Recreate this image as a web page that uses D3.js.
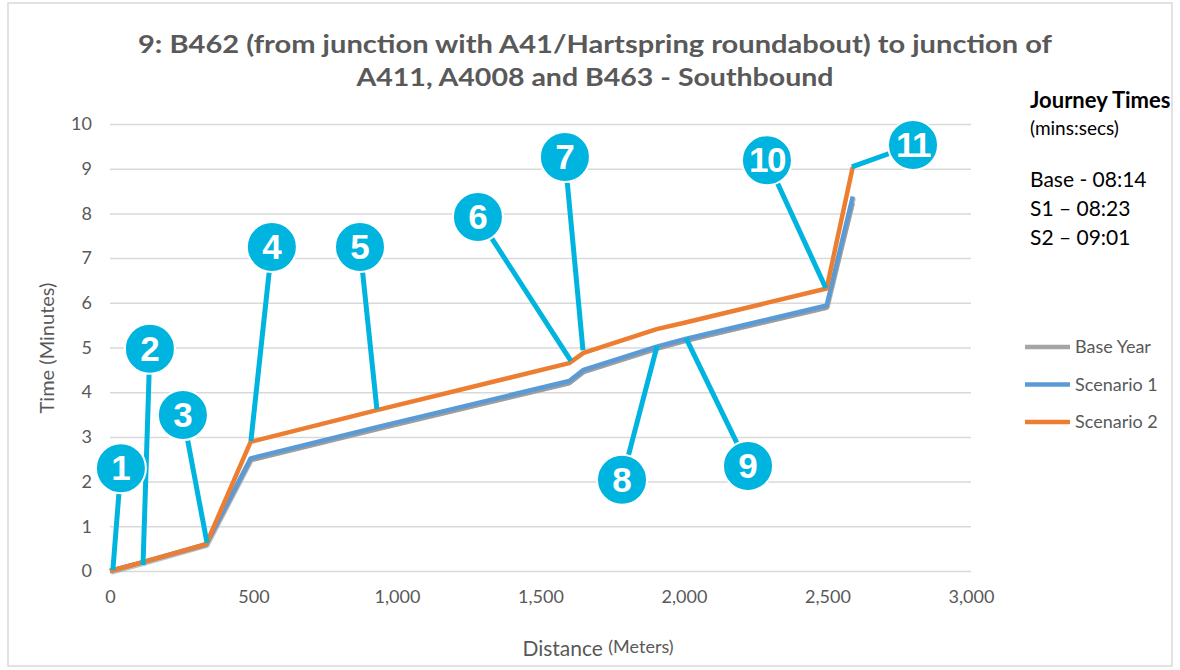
<!DOCTYPE html>
<html>
<head>
<meta charset="utf-8">
<script src="https://cdn.jsdelivr.net/npm/d3@7"></script>
<style>
  html, body { margin: 0; padding: 0; background: #fff; }
  svg { display: block; }
</style>
</head>
<body>
<svg id="chart" width="1180" height="670"></svg>
<script>
// ---------------- data ----------------
const titleLines = ["9: B462 (from junction with A41/Hartspring roundabout) to junction of",
                    "A411, A4008 and B463 - Southbound"];
const distances  = [0, 115, 335, 490, 930, 1600, 1650, 1905, 2005, 2497, 2588];
const baseYear   = [0, 0.2, 0.58, 2.48, 3.17, 4.20, 4.45, 4.97, 5.15, 5.89, 8.23];
const scenario1  = [0, 0.2, 0.60, 2.52, 3.22, 4.25, 4.50, 5.02, 5.19, 5.94, 8.38];
const scenario2  = [0, 0.2, 0.60, 2.89, 3.60, 4.65, 4.88, 5.41, 5.56, 6.32, 9.04];
const seriesNames = ["Base Year", "Scenario 1", "Scenario 2"];
const xTicks = [0, 500, 1000, 1500, 2000, 2500, 3000];
const yTicks = [0, 1, 2, 3, 4, 5, 6, 7, 8, 9, 10];
// annotation labels: bubble position (distance, minutes) and pointed node (distance, minutes)
const annLabels  = ["1", "2", "3", "4", "5", "6", "7", "8", "9", "10", "11"];
const annBubbleX = [38, 139, 254, 564, 871, 1282, 1585, 1784, 2223, 2289, 2798];
const annBubbleY = [2.30, 4.97, 3.49, 7.25, 7.25, 7.92, 9.26, 2.04, 2.35, 9.19, 9.53];
const annTargetX = [10, 115, 338, 491, 930, 1606, 1648, 1906, 2007, 2494, 2585];
const annTargetY = [0.02, 0.13, 0.63, 2.91, 3.62, 4.70, 4.94, 5.03, 5.21, 6.33, 9.04];
const journeyTitle = "Journey Times";
const journeyUnit = "(mins:secs)";
const journeyLines = ["Base - 08:14", "S1 \u2013 08:23", "S2 \u2013 09:01"];

// ---------------- drawing ----------------
const svg = d3.select("#chart");
const colors = ["#a5a5a5", "#5b9bd5", "#ed7d31"];
const cyan = "#00b4e0";
const textGray = "#595959";
const font = "Lato, 'Open Sans', sans-serif";

// outer border
svg.append("rect").attr("x", 8).attr("y", 3).attr("width", 1164).attr("height", 663)
  .attr("fill", "#fff").attr("stroke", "#d9d9d9").attr("stroke-width", 1.5);

const x = d3.scaleLinear().domain([0, 3000]).range([110, 971]);
const y = d3.scaleLinear().domain([0, 10]).range([571, 124]);

// title
svg.append("g").selectAll("text").data(titleLines).join("text")
  .attr("x", 595).attr("y", (d, i) => 53 + i * 33)
  .attr("text-anchor", "middle")
  .attr("font-family", font)
  .attr("font-weight", "bold").attr("font-size", 25)
  .attr("fill", textGray)
  .attr("textLength", (d, i) => i === 0 ? 914 : 477)
  .attr("lengthAdjust", "spacingAndGlyphs")
  .text(d => d);

// y gridlines + labels
const yAxis = d3.axisLeft(y).tickValues(yTicks).tickSize(-(x(3000) - x(0))).tickPadding(18)
  .tickFormat(d3.format("d"));
const gy = svg.append("g").attr("transform", `translate(${x(0)},0)`).call(yAxis);
gy.select(".domain").remove();
gy.selectAll(".tick line").attr("stroke", "#d9d9d9").attr("stroke-width", 1.5);
gy.selectAll(".tick text").attr("font-family", font)
  .attr("font-size", 18).attr("fill", textGray);

// x labels
const xAxis = d3.axisBottom(x).tickValues(xTicks).tickSize(0).tickPadding(19)
  .tickFormat(d3.format(","));
const gx = svg.append("g").attr("transform", `translate(0,${y(0)})`).call(xAxis);
gx.select(".domain").remove();
gx.selectAll(".tick text").attr("font-family", font)
  .attr("font-size", 18).attr("fill", textGray);

// axis titles
svg.append("text").attr("transform", "translate(54,348) rotate(-90)")
  .attr("text-anchor", "middle").attr("font-family", font)
  .attr("font-size", 20).attr("fill", textGray).text("Time (Minutes)");
const xt = svg.append("text").attr("x", 598).attr("y", 656).attr("text-anchor", "middle")
  .attr("font-family", font).attr("fill", textGray);
xt.append("tspan").attr("font-size", 21).text("Distance ");
xt.append("tspan").attr("font-size", 18).attr("dy", -3).text("(Meters)");

// series lines
const seriesData = [baseYear, scenario1, scenario2];
const line = d3.line().x(d => x(d[0])).y(d => y(d[1]));
const gl = svg.append("g");
seriesData.forEach((vals, si) => {
  const pts = distances.map((dd, i) => [dd, vals[i]]);
  if (si === 1) {
    gl.append("path").datum(pts).attr("d", line).attr("fill", "none")
      .attr("stroke", "#9a9a9a").attr("stroke-opacity", 0.6).attr("stroke-width", 4.5)
      .attr("transform", "translate(1,1.5)").attr("stroke-linejoin", "round");
  }
  gl.append("path").datum(pts).attr("d", line).attr("fill", "none")
    .attr("stroke", colors[si]).attr("stroke-width", 4.5).attr("stroke-linejoin", "round");
});

// annotations
const ga = svg.append("g");
annLabels.forEach((lab, i) => {
  ga.append("line")
    .attr("x1", x(annBubbleX[i])).attr("y1", y(annBubbleY[i]))
    .attr("x2", x(annTargetX[i])).attr("y2", y(annTargetY[i]))
    .attr("stroke", cyan).attr("stroke-width", 5);
});
annLabels.forEach((lab, i) => {
  const cx = x(annBubbleX[i]), cy = y(annBubbleY[i]);
  ga.append("circle").attr("cx", cx).attr("cy", cy).attr("r", 25)
    .attr("fill", cyan).attr("stroke", "#fff").attr("stroke-width", 2);
  ga.append("text").attr("x", cx).attr("y", cy + 12).attr("text-anchor", "middle")
    .attr("font-family", "'Liberation Sans', Arial, sans-serif").attr("font-weight", "bold")
    .attr("font-size", 35).attr("fill", "#fff")
    .attr("letter-spacing", lab.length > 1 ? -1.5 : 0)
    .text(lab);
});

// legend
const legend = svg.append("g");
seriesNames.forEach((name, i) => {
  const ly = 347 + i * 37.5;
  legend.append("line").attr("x1", 1025).attr("x2", 1070).attr("y1", ly).attr("y2", ly)
    .attr("stroke", colors[i]).attr("stroke-width", 4.5);
  legend.append("text").attr("x", 1075).attr("y", ly + 6)
    .attr("font-family", font).attr("font-size", 18)
    .attr("fill", textGray).text(name);
});

// journey times box
const jt = svg.append("g").attr("font-family", font).attr("fill", "#000");
jt.append("text").attr("x", 1030).attr("y", 108).attr("font-weight", "bold").attr("font-size", 22)
  .text(journeyTitle);
jt.append("text").attr("x", 1030).attr("y", 135).attr("font-size", 19).text(journeyUnit);
jt.selectAll("text.jl").data(journeyLines).join("text").attr("class", "jl")
  .attr("x", 1030).attr("y", (d, i) => 187 + i * 29).attr("font-size", 21).text(d => d);
</script>
</body>
</html>
